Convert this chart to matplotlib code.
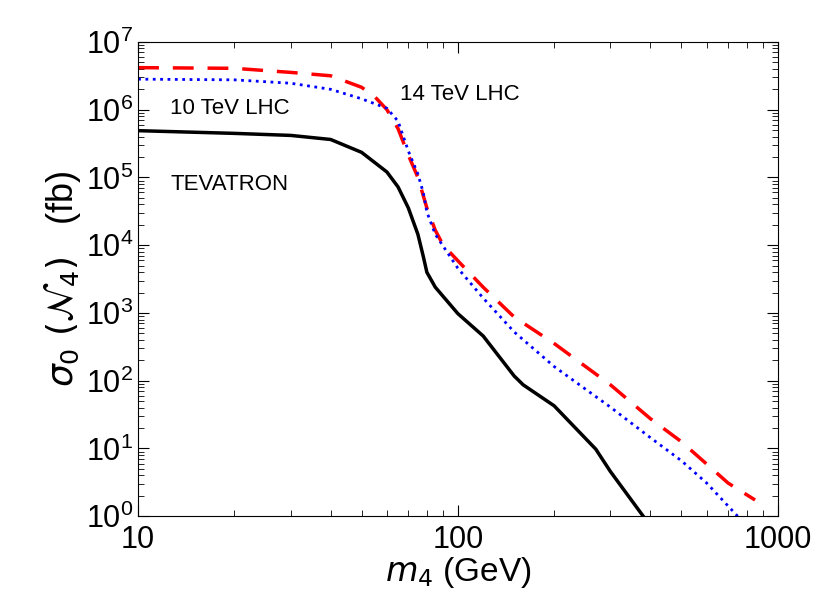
import matplotlib
matplotlib.use("Agg")
import matplotlib.pyplot as plt
from matplotlib.ticker import LogLocator, NullFormatter, FixedLocator

plt.rcParams['font.family'] = ['Liberation Sans', 'DejaVu Sans']
plt.rcParams['mathtext.fontset'] = 'dejavusans'

tev_m = [10, 20, 30, 40, 50, 60, 65, 70, 75, 78, 80, 85, 100, 120, 150, 160, 200, 270, 300, 380]
tev_logs = [5.69, 5.65, 5.62, 5.56, 5.37, 5.08, 4.86, 4.55, 4.16, 3.83, 3.6, 3.38, 2.99, 2.66, 2.07, 1.94, 1.63, 0.99, 0.66, 0.0]

l14_m = [10, 20, 30, 40, 50, 55, 60, 65, 70, 75, 80, 85, 90, 100, 120, 150, 200, 300, 400, 500, 600, 700, 850]
l14_logs = [6.62, 6.61, 6.55, 6.50, 6.33, 6.19, 6.0, 5.72, 5.33, 5.0, 4.55, 4.22, 4.0, 3.77, 3.38, 2.94, 2.55, 1.94, 1.44, 1.10, 0.77, 0.49, 0.24]

l10_m = [10, 20, 30, 40, 50, 60, 65, 70, 75, 78, 80, 85, 100, 120, 150, 200, 300, 400, 500, 600, 750]
l10_logs = [6.45, 6.44, 6.39, 6.30, 6.16, 6.02, 5.83, 5.39, 5.05, 4.77, 4.49, 4.16, 3.66, 3.22, 2.72, 2.21, 1.61, 1.16, 0.82, 0.49, 0.0]

fig = plt.figure(figsize=(8.22, 5.90), dpi=100)
ax = fig.add_axes([0.168, 0.125, 0.778, 0.804])
ax.plot(tev_m, [10**v for v in tev_logs], color='black', lw=2.5)
ax.plot(l14_m, [10**v for v in l14_logs], color='red', lw=2.5, dashes=(6, 4))
ax.plot(l10_m, [10**v for v in l10_logs], color='blue', lw=2, ls=':')
ax.set_xscale('log'); ax.set_yscale('log')
ax.set_xlim(10, 1000); ax.set_ylim(1, 1e7)
ax.yaxis.set_major_locator(FixedLocator([10**i for i in range(8)]))
ax.yaxis.set_minor_locator(LogLocator(base=10, subs=range(2, 10), numticks=20))
ax.yaxis.set_minor_formatter(NullFormatter())
ax.set_xticks([10, 100, 1000]); ax.set_xticklabels(['10', '100', '1000'])
ax.tick_params(which='both', direction='in', top=True, right=True, labelsize=22)
ax.tick_params(axis='x', pad=6)
ax.tick_params(which='major', length=8)
ax.tick_params(which='minor', length=4)
ax.set_xlabel(r'$m_4$ (GeV)', fontsize=24, labelpad=0)
ax.set_ylabel(r'$\sigma_0\ (\mathcal{N}_4)$   (fb)', fontsize=26, labelpad=2)
ax.text(0.41, 0.89, '14 TeV LHC', transform=ax.transAxes, fontsize=16, va='center')
ax.text(0.05, 0.86, '10 TeV LHC', transform=ax.transAxes, fontsize=16, va='center')
ax.text(0.05, 0.70, 'TEVATRON', transform=ax.transAxes, fontsize=16, va='center')
fig.savefig('out.png', dpi=100)
